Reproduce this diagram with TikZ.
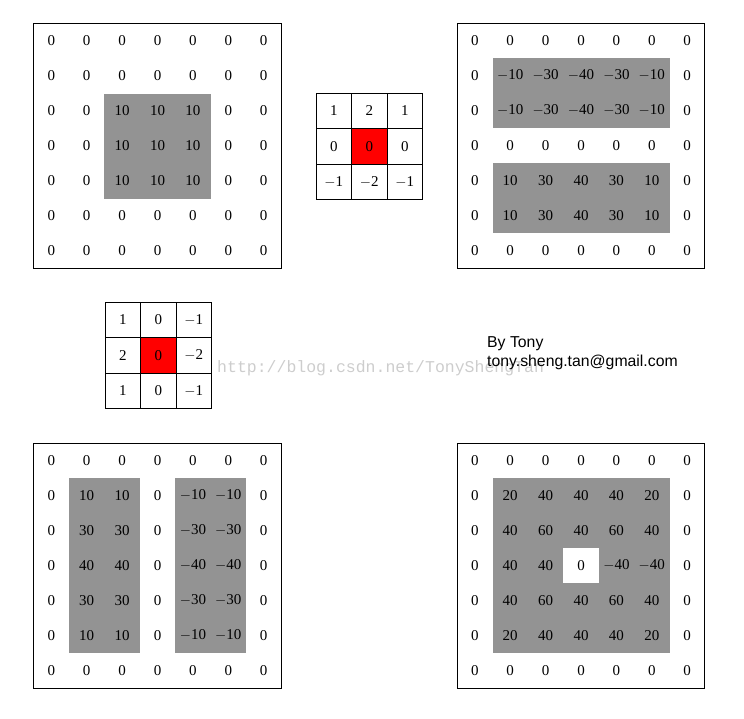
\documentclass[tikz,border=0pt]{standalone}
\usepackage{fontspec}
\newfontfamily\signfont{Liberation Sans}
\newfontfamily\markfont{Liberation Mono}
\newfontfamily\numfont{Liberation Serif}
\usetikzlibrary{positioning}
\definecolor{cellgray}{RGB}{147,147,147}
\definecolor{markgray}{RGB}{205,205,205}
\newcommand\cellval[1]{\ifnum#1<0 $-$\the\numexpr-#1\relax\else#1\fi}

\begin{document}
\begin{tikzpicture}[x=1pt,y=-1pt,
    num/.style={inner sep=0pt, font=\numfont\fontsize{15}{18}\selectfont},
    kcell/.style={draw, line width=0.9pt, minimum width=35.5pt, minimum height=35.5pt,
        inner sep=0pt, font=\numfont\fontsize{15}{18}\selectfont},
    kred/.style={fill=red},
    ky22/.style={kred}, kx22/.style={kred},
    matbox/.style={draw, line width=1pt}]
    \useasboundingbox (0,0) rectangle (744,718);

    % input image
    \fill[cellgray] (104.4,93.5) rectangle (210.6,198.5);
    \draw[matbox] (33.6,23.5) rectangle (281.4,268.5);
    \foreach \row [count=\r] in {{0,0,0,0,0,0,0},{0,0,0,0,0,0,0},{0,0,10,10,10,0,0},
        {0,0,10,10,10,0,0},{0,0,10,10,10,0,0},{0,0,0,0,0,0,0},{0,0,0,0,0,0,0}}
        \foreach \v [count=\c] in \row
            \node[num] (in-\r-\c) at ({157.5+35.4*(\c-4)},{146+35*(\r-4)}) {\cellval{\v}};

    % kernel Gy
    \foreach \row [count=\r] in {{1,2,1},{0,0,0},{-1,-2,-1}}
        \foreach \v [count=\c] in \row
            \node[kcell, ky\r\c/.try] (ky-\r-\c) at ({333.75+35.5*(\c-1)},{110.75+35.5*(\r-1)}) {\cellval{\v}};

    % result Gy
    \fill[cellgray] (492.5,58) rectangle (669.5,128);
    \fill[cellgray] (492.5,163) rectangle (669.5,233);
    \draw[matbox] (457.1,23) rectangle (704.9,268);
    \foreach \row [count=\r] in {{0,0,0,0,0,0,0},{0,-10,-30,-40,-30,-10,0},{0,-10,-30,-40,-30,-10,0},
        {0,0,0,0,0,0,0},{0,10,30,40,30,10,0},{0,10,30,40,30,10,0},{0,0,0,0,0,0,0}}
        \foreach \v [count=\c] in \row
            \node[num] (gy-\r-\c) at ({581+35.4*(\c-4)},{145.5+35*(\r-4)}) {\cellval{\v}};

    % kernel Gx
    \foreach \row [count=\r] in {{1,0,-1},{2,0,-2},{1,0,-1}}
        \foreach \v [count=\c] in \row
            \node[kcell, kx\r\c/.try] (kx-\r-\c) at ({122.75+35.5*(\c-1)},{319.75+35.5*(\r-1)}) {\cellval{\v}};

    \node[text=markgray, font=\markfont\fontsize{16.5}{18}\selectfont, anchor=west, inner sep=0pt]
        (mark) at (217,368) {http://blog.csdn.net/TonyShengTan};
    \node[font=\signfont\fontsize{15.8}{19}\selectfont, anchor=west, align=left, inner sep=0pt]
        (sign) at (487,353) {By Tony\\tony.sheng.tan@gmail.com};

    % result Gx
    \fill[cellgray] (69,478) rectangle (139.8,653);
    \fill[cellgray] (175.2,478) rectangle (246,653);
    \draw[matbox] (33.6,443) rectangle (281.4,688);
    \foreach \row [count=\r] in {{0,0,0,0,0,0,0},{0,10,10,0,-10,-10,0},{0,30,30,0,-30,-30,0},
        {0,40,40,0,-40,-40,0},{0,30,30,0,-30,-30,0},{0,10,10,0,-10,-10,0},{0,0,0,0,0,0,0}}
        \foreach \v [count=\c] in \row
            \node[num] (gx-\r-\c) at ({157.5+35.4*(\c-4)},{565.5+35*(\r-4)}) {\cellval{\v}};

    % sum
    \fill[cellgray] (492.5,478) rectangle (669.5,653);
    \fill[white] (563.3,548) rectangle (598.7,583);
    \draw[matbox] (457.1,443) rectangle (704.9,688);
    \foreach \row [count=\r] in {{0,0,0,0,0,0,0},{0,20,40,40,40,20,0},{0,40,60,40,60,40,0},
        {0,40,40,0,-40,-40,0},{0,40,60,40,60,40,0},{0,20,40,40,40,20,0},{0,0,0,0,0,0,0}}
        \foreach \v [count=\c] in \row
            \node[num] (sum-\r-\c) at ({581+35.4*(\c-4)},{565.5+35*(\r-4)}) {\cellval{\v}};
\end{tikzpicture}
\end{document}
